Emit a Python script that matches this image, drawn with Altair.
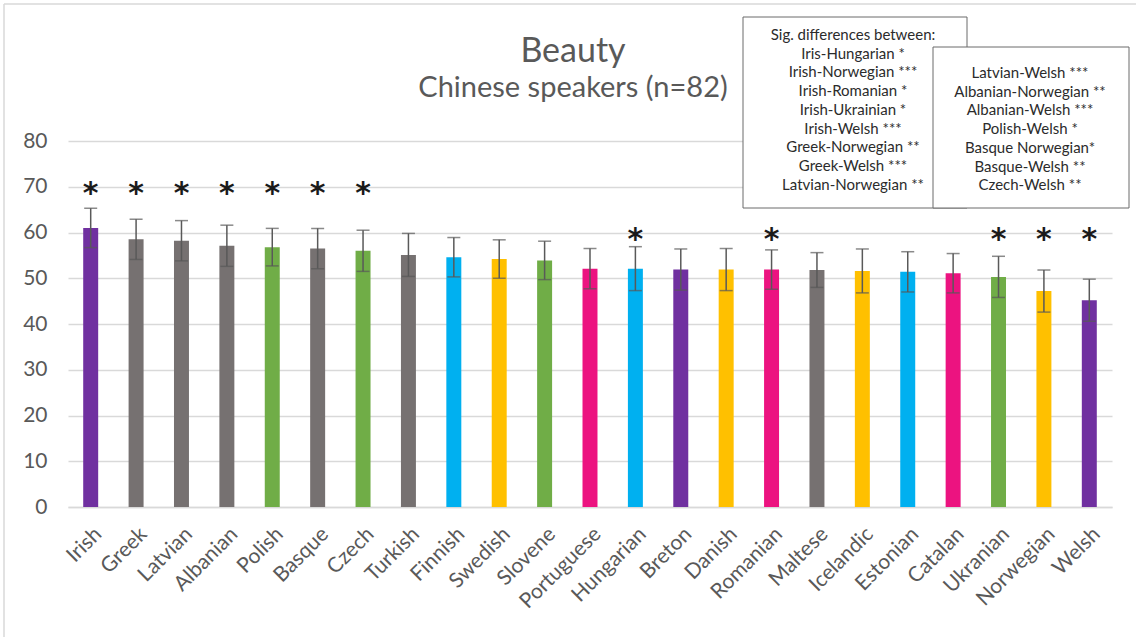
import altair as alt
import pandas as pd

# Mean "Beauty" ratings per language, with error-bar half widths
languages = ["Irish", "Greek", "Latvian", "Albanian", "Polish", "Basque", "Czech",
             "Turkish", "Finnish", "Swedish", "Slovene", "Portuguese", "Hungarian",
             "Breton", "Danish", "Romanian", "Maltese", "Icelandic", "Estonian",
             "Catalan", "Ukranian", "Norwegian", "Welsh"]
means = [61.0, 58.5, 58.2, 57.1, 56.8, 56.5, 56.0, 55.1, 54.6, 54.2, 53.9, 52.1,
         52.1, 51.9, 51.9, 51.9, 51.8, 51.6, 51.4, 51.1, 50.3, 47.2, 45.2]
errors = [4.3, 4.4, 4.4, 4.5, 4.1, 4.4, 4.5, 4.7, 4.3, 4.2, 4.2, 4.4,
          4.8, 4.5, 4.6, 4.3, 3.8, 4.8, 4.4, 4.3, 4.5, 4.6, 4.6]
families = ["Celtic", "Other", "Other", "Other", "Slavic", "Other", "Slavic",
            "Other", "Finno-Ugric", "Germanic", "Slavic", "Romance", "Finno-Ugric",
            "Celtic", "Germanic", "Romance", "Other", "Germanic", "Finno-Ugric",
            "Romance", "Slavic", "Germanic", "Celtic"]
# significance marker level (0 = no marker)
star_level = [70, 70, 70, 70, 70, 70, 70, 0, 0, 0, 0, 0, 60,
              0, 0, 60, 0, 0, 0, 0, 60, 60, 60]

family_names = ["Celtic", "Other", "Slavic", "Finno-Ugric", "Germanic", "Romance"]
family_colors = ["#7030A0", "#767171", "#70AD47", "#00B0F0", "#FFC000", "#EC1380"]

sig_left = ["Sig. differences between:", "Iris-Hungarian *", "Irish-Norwegian ***",
            "Irish-Romanian *", "Irish-Ukrainian *", "Irish-Welsh ***",
            "Greek-Norwegian **", "Greek-Welsh ***", "Latvian-Norwegian **"]
sig_right = ["Latvian-Welsh ***", "Albanian-Norwegian **", "Albanian-Welsh ***",
             "Polish-Welsh *", "Basque Norwegian*", "Basque-Welsh **", "Czech-Welsh **"]

df = pd.DataFrame({"language": languages, "mean": means, "err": errors,
                   "family": families, "star": star_level})
df["lo"] = df["mean"] - df["err"]
df["hi"] = df["mean"] + df["err"]

FONT = "Lato"
GREY_TXT = "#595959"
W, H = 1044, 366

x_enc = alt.X("language:N", sort=languages, title=None,
              scale=alt.Scale(paddingInner=0.67, paddingOuter=0.335),
              axis=alt.Axis(labelAngle=-45, labelFontSize=21, labelColor=GREY_TXT,
                            labelFont=FONT, ticks=False, labelPadding=16,
                            domainColor="#D9D9D9", domainWidth=1.5, grid=False))
y_scale = alt.Scale(domain=[0, 80])

base = alt.Chart(df)

bars = base.mark_bar().encode(
    x=x_enc,
    y=alt.Y("mean:Q", scale=y_scale, title=None,
            axis=alt.Axis(values=list(range(0, 90, 10)), labelFontSize=21,
                          labelColor=GREY_TXT, labelFont=FONT, ticks=False,
                          domain=False, labelPadding=21, gridColor="#D9D9D9",
                          gridWidth=1.5)),
    color=alt.Color("family:N", scale=alt.Scale(domain=family_names, range=family_colors),
                    legend=None),
)

whisker = base.mark_rule(color="#595959", strokeWidth=1.5).encode(
    x=alt.X("language:N", sort=languages), y=alt.Y("lo:Q", scale=y_scale), y2="hi:Q")
cap_hi = base.mark_tick(color="#595959", thickness=1.5, size=13).encode(
    x=alt.X("language:N", sort=languages), y=alt.Y("hi:Q", scale=y_scale))
cap_lo = base.mark_tick(color="#595959", thickness=1.5, size=13).encode(
    x=alt.X("language:N", sort=languages), y=alt.Y("lo:Q", scale=y_scale))

stars = base.transform_filter("datum.star > 0").mark_text(
    text="*", fontSize=30, fontWeight="bold", font="DejaVu Sans", color="#1a1a1a",
    baseline="middle", dy=7).encode(
    x=alt.X("language:N", sort=languages), y=alt.Y("star:Q", scale=y_scale))

# Titles
title_df = pd.DataFrame({"t": ["Beauty"]})
sub_df = pd.DataFrame({"t": ["Chinese speakers (n=82)"]})
title = alt.Chart(title_df).mark_text(fontSize=34, font=FONT, color=GREY_TXT,
                                      align="center", baseline="alphabetic").encode(
    text="t:N", x=alt.value(505), y=alt.value(-79))
subtitle = alt.Chart(sub_df).mark_text(fontSize=29, font=FONT, color=GREY_TXT,
                                       align="center", baseline="alphabetic").encode(
    text="t:N", x=alt.value(505), y=alt.value(-44))

# Outer frame lines (top and left)
one = pd.DataFrame({"k": [0]})
frame_top = alt.Chart(one).mark_rule(color="#D9D9D9", strokeWidth=1.5).encode(
    x=alt.value(-64), x2=alt.value(1070), y=alt.value(-137))
frame_left = alt.Chart(one).mark_rule(color="#D9D9D9", strokeWidth=1.5).encode(
    x=alt.value(-64), y=alt.value(-137), y2=alt.value(500))

# Significance boxes
box1 = alt.Chart(one).mark_rect(fill="white", stroke="#6b6b6b", strokeWidth=1).encode(
    x=alt.value(675), x2=alt.value(899), y=alt.value(-124), y2=alt.value(67))
box2 = alt.Chart(one).mark_rect(fill="white", stroke="#6b6b6b", strokeWidth=1).encode(
    x=alt.value(865), x2=alt.value(1061), y=alt.value(-94), y2=alt.value(67))
txt1 = alt.Chart(one).mark_text(font=FONT, fontSize=15, color="#2b2b2b",
                                align="center", baseline="alphabetic", lineHeight=18.7).encode(
    text=alt.value(sig_left), x=alt.value(785), y=alt.value(-101))
txt2 = alt.Chart(one).mark_text(font=FONT, fontSize=15, color="#2b2b2b",
                                align="center", baseline="alphabetic", lineHeight=18.7).encode(
    text=alt.value(sig_right), x=alt.value(962), y=alt.value(-63))

chart = alt.layer(
    frame_top, frame_left, bars, whisker, cap_hi, cap_lo, stars,
    title, subtitle, box1, txt1, box2, txt2
).properties(
    width=W, height=H,
    autosize=alt.AutoSizeParams(type="none"),
    padding={"left": 68, "top": 141, "right": 24, "bottom": 130},
    background="white",
).configure_view(strokeWidth=0)

chart.save("out.html", embed_options={"renderer": "svg", "actions": False})
